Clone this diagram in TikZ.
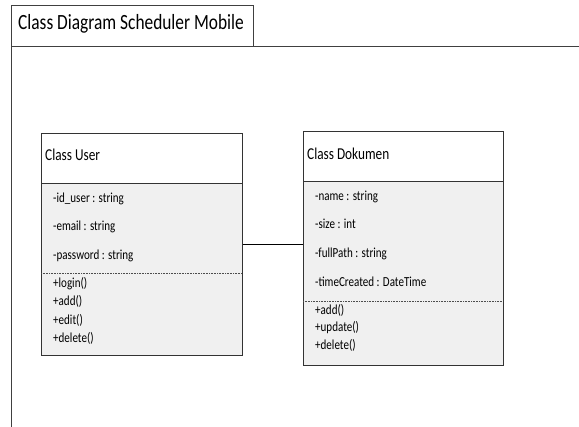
\documentclass[tikz,border=0pt]{standalone}
\usepackage{fontspec}
\setmainfont{Carlito}
\newfontfamily\narrowfont[FakeStretch=0.8]{Carlito}
\begin{document}
\begin{tikzpicture}[x=1pt,y=-1pt,
  frameline/.style={draw=black!75, line width=0.8pt},
  classbox/.style={draw=black!80, line width=0.9pt, fill=black!6, inner sep=0pt, anchor=north west},
  headfill/.style={fill=white},
  sepline/.style={draw=black!80, line width=0.8pt},
  dotline/.style={draw=black!70, line width=0.6pt, densely dotted},
  txt/.style={anchor=west, inner sep=0pt, text height=0.68em, text depth=0.2em},
  title/.style={txt, font=\narrowfont\fontsize{21.7}{24}\selectfont},
  cname/.style={txt, font=\narrowfont\fontsize{16.6}{19}\selectfont},
  member/.style={txt, font=\narrowfont\fontsize{13.8}{16}\selectfont},
  assoc/.style={draw=black, line width=0.8pt}]
\useasboundingbox (0,0) rectangle (579,427);

% frame with title tab
\draw[frameline] (11,427) -- (11,5) -- (253,5) -- (253,46);
\draw[frameline] (11,46) -- (579,46);
\node[title] (frametitle) at (18,27) {Class Diagram Scheduler Mobile};

% class User
\node[classbox, minimum width=201pt, minimum height=222pt] (user) at (41,133) {};
\fill[headfill] (41,133) rectangle (242,183);
\draw[classbox, fill=none] (41,133) rectangle (242,355);
\draw[sepline] (41,183) -- (242,183);
\draw[dotline] (41,273) -- (242,273);
\node[cname] (usern) at (45,158) {Class User};
\node[member] (u1) at (53,200) {-id\_user : string};
\node[member] (u2) at (53,228) {-email : string};
\node[member] (u3) at (53,257) {-password : string};
\node[member] (u4) at (53,285) {+login()};
\node[member] (u5) at (53,303.5) {+add()};
\node[member] (u6) at (53,322) {+edit()};
\node[member] (u7) at (53,340.5) {+delete()};

% class Dokumen
\node[classbox, minimum width=200pt, minimum height=234pt] (doc) at (303,131) {};
\fill[headfill] (303,131) rectangle (503,181);
\draw[classbox, fill=none] (303,131) rectangle (503,365);
\draw[sepline] (303,181) -- (503,181);
\draw[dotline] (303,301) -- (503,301);
\node[cname] (docn) at (307,157) {Class Dokumen};
\node[member] (d1) at (315,198) {-name : string};
\node[member] (d2) at (315,226) {-size : int};
\node[member] (d3) at (315,255) {-fullPath : string};
\node[member] (d4) at (315,284) {-timeCreated : DateTime};
\node[member] (d5) at (315,312) {+add()};
\node[member] (d6) at (315,329.5) {+update()};
\node[member] (d7) at (315,347) {+delete()};

% association
\draw[assoc] (user.east) -- (doc.west |- user.east);
\end{tikzpicture}
\end{document}
